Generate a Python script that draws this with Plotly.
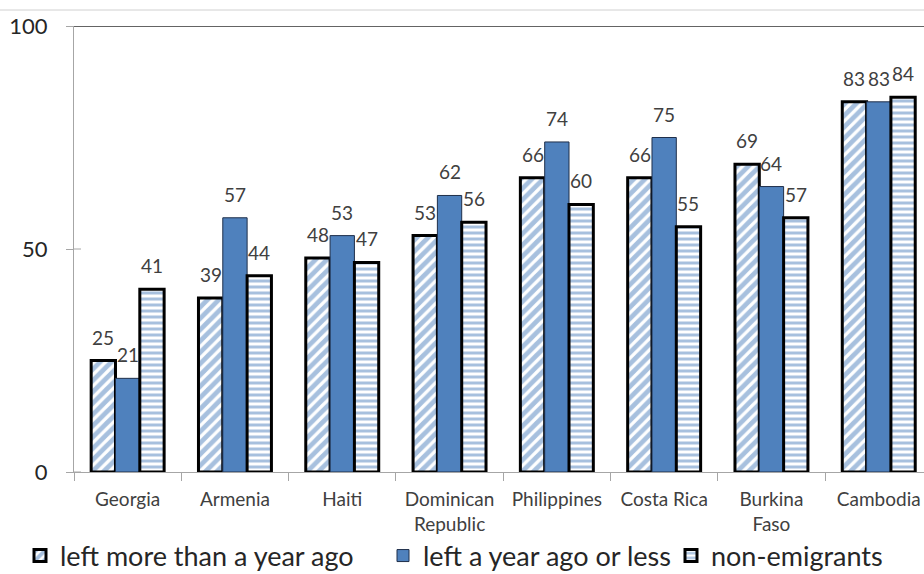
import plotly.graph_objects as go

# Share of respondents by country and migration status (%)
countries = ["Georgia", "Armenia", "Haiti", "Dominican<br>Republic", "Philippines",
             "Costa Rica", "Burkina<br>Faso", "Cambodia"]
left_more_than_year = [25, 39, 48, 53, 66, 66, 69, 83]
left_year_or_less = [21, 57, 53, 62, 74, 75, 64, 83]
non_emigrants = [41, 44, 47, 56, 60, 55, 57, 84]
y_ticks = [0, 50, 100]

series_names = ["left more than a year ago", "left a year ago or less", "non-emigrants"]

BLUE = "#4F81BD"
TEXT = "#404040"
FONT = "Lato"

W, H = 924, 574
M_L, M_R, M_T, M_B = 74, 0, 26, 102
BARGAP = 0.32
CAT_PX = 107.3                      # width of one category slot
plot_w = W - M_L - M_R
plot_h = H - M_T - M_B
x_hi = -0.5 + plot_w / CAT_PX       # plot area runs past the right edge
bar_px = CAT_PX * (1 - BARGAP) / 3

fig = go.Figure()

fig.add_trace(go.Bar(
    x=countries, y=left_more_than_year, name=series_names[0], legend="legend",
    marker=dict(color="white",
                line=dict(color="black", width=3),
                pattern=dict(shape="/", fgcolor=BLUE, bgcolor="white",
                             size=8, solidity=0.6)),
))
fig.add_trace(go.Bar(
    x=countries, y=left_year_or_less, name=series_names[1], legend="legend2",
    marker=dict(color=BLUE, line=dict(color="#1f2f4a", width=1)),
))
fig.add_trace(go.Bar(
    x=countries, y=non_emigrants, name=series_names[2], legend="legend3",
    marker=dict(color="white",
                line=dict(color="black", width=3),
                pattern=dict(shape="-", fgcolor=BLUE, bgcolor="white",
                             size=6, solidity=0.5)),
))

# value labels above each bar
annotations = []
for k, vals in enumerate([left_more_than_year, left_year_or_less, non_emigrants]):
    for c, v in zip(countries, vals):
        annotations.append(dict(
            x=c, y=v, xref="x", yref="y", text=str(v), showarrow=False,
            xshift=(k - 1) * bar_px, yshift=10, yanchor="bottom",
            font=dict(family=FONT, size=19, color=TEXT),
        ))

shapes = [
    # outer frame line across the top
    dict(type="line", xref="paper", yref="paper",
         x0=-M_L / plot_w, x1=1, y0=1 + 16 / plot_h, y1=1 + 16 / plot_h,
         line=dict(color="#d0d0d0", width=1)),
    # top border of the plot area
    dict(type="line", xref="paper", yref="y", x0=0, x1=1, y0=100, y1=100,
         line=dict(color="#303030", width=1.5)),
]
# inner half of the crossing y ticks
for t in y_ticks[:2]:
    shapes.append(dict(type="line", xref="paper", yref="y", xsizemode="pixel",
                       xanchor=0, x0=0, x1=7, y0=t, y1=t,
                       line=dict(color="#a6a6a6", width=1), layer="below"))


def legend_at(px):
    return dict(orientation="h", xref="container", yref="container",
                x=px / W, xanchor="left", y=(H - 556) / H, yanchor="middle",
                font=dict(family=FONT, size=27, color="#262626"),
                itemwidth=30, bgcolor="rgba(0,0,0,0)")


fig.update_layout(
    width=W, height=H,
    margin=dict(l=M_L, r=M_R, t=M_T, b=M_B, autoexpand=False),
    paper_bgcolor="white", plot_bgcolor="white",
    barmode="group", bargap=BARGAP, bargroupgap=0,
    font=dict(family=FONT, color=TEXT),
    showlegend=True,
    legend=legend_at(20),
    legend2=legend_at(383),
    legend3=legend_at(671),
    annotations=annotations,
    shapes=shapes,
)
fig.update_xaxes(
    range=[-0.5, x_hi],
    showline=True, linecolor="#a6a6a6", linewidth=1,
    ticks="outside", tickson="boundaries", ticklen=8, tickcolor="#a6a6a6",
    tickfont=dict(family=FONT, size=19, color=TEXT),
    ticklabelstandoff=10,
    showgrid=False, automargin=False,
)
fig.update_yaxes(
    range=[0, 100], tickvals=y_ticks,
    showline=True, linecolor="#a6a6a6", linewidth=1,
    ticks="outside", ticklen=7, tickcolor="#a6a6a6",
    tickfont=dict(family=FONT, size=22, color="#262626"),
    ticklabelstandoff=14,
    showgrid=False, zeroline=False, automargin=False,
)

fig.write_html("out.html")
